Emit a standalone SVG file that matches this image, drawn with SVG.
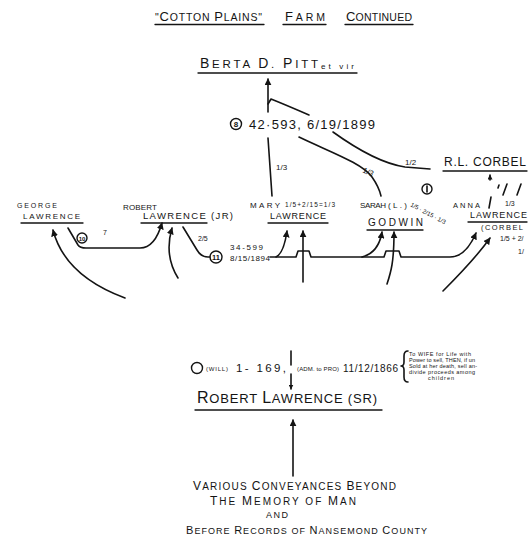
<svg xmlns="http://www.w3.org/2000/svg" width="528" height="544" viewBox="0 0 528 544">
<defs>
<style>
.t{font-family:"Liberation Sans",Arial,sans-serif;fill:#141414}
.ln{fill:none;stroke:#141414;stroke-width:1.6;stroke-linecap:round;stroke-linejoin:round}
.ul{fill:none;stroke:#141414;stroke-width:1.3;stroke-linecap:round}
.cr{fill:none;stroke:#141414;stroke-width:1.4}
</style>
<marker id="ah" viewBox="0 0 10 10" refX="9" refY="5" markerWidth="7" markerHeight="7" markerUnits="userSpaceOnUse" orient="auto">
<path d="M0,0 L10,5 L0,10 z" fill="#141414"/>
</marker>
<marker id="ahs" viewBox="0 0 10 10" refX="9" refY="5" markerWidth="5" markerHeight="5" markerUnits="userSpaceOnUse" orient="auto">
<path d="M0,0 L10,5 L0,10 z" fill="#141414"/>
</marker>
</defs>
<rect width="528" height="544" fill="#ffffff"/>

<g id="title">
<text class="t" x="155" y="21" font-size="10.5" textLength="107" lengthAdjust="spacing">"<tspan font-size="13">C</tspan>OTTON <tspan font-size="13">P</tspan>LAINS"</text>
<text class="t" x="285" y="21" font-size="10.5" textLength="40" lengthAdjust="spacing"><tspan font-size="13">F</tspan>ARM</text>
<text class="t" x="346" y="21" font-size="10.5" textLength="66" lengthAdjust="spacing"><tspan font-size="13">C</tspan>ONTINUED</text>
<path class="ul" d="M155,24.5 L264,24.5 M283,24.5 L326,24.5 M345,24.5 L413,24.5"/>
</g>

<g id="berta">
<text class="t" x="200" y="68" font-size="11.5" textLength="118" lengthAdjust="spacing"><tspan font-size="14">B</tspan>ERTA <tspan font-size="14">D</tspan>. <tspan font-size="14">P</tspan>ITT</text>
<text class="t" x="321" y="69" font-size="8" textLength="33" lengthAdjust="spacing">et vir</text>
<path class="ul" d="M198,73 L357,73"/>
</g>

<g id="deed8">
<circle class="cr" cx="236" cy="124" r="5.5" stroke-width="2"/>
<text class="t" x="236" y="127" font-size="8" font-weight="bold" text-anchor="middle">8</text>
<text class="t" x="249" y="129" font-size="13" textLength="126" lengthAdjust="spacing">42·593, 6/19/1899</text>
</g>

<g id="corbel">
<text class="t" x="444" y="166" font-size="12" textLength="82" lengthAdjust="spacing">R.L. CORBEL</text>
<path class="ul" d="M443,171 L527,171"/>
<circle class="cr" cx="427" cy="189" r="5" stroke-width="2.8"/>
<path class="ln" d="M427,186 L427,192" stroke-width="1.8"/>
</g>

<g id="george">
<text class="t" x="17" y="208" font-size="7" textLength="40" lengthAdjust="spacing">GEORGE</text>
<text class="t" x="23" y="219" font-size="8" textLength="57" lengthAdjust="spacing">LAWRENCE</text>
<path class="ul" d="M21,223 L83,223"/>
</g>

<g id="robertjr">
<text class="t" x="123" y="210" font-size="8" textLength="34" lengthAdjust="spacing">ROBERT</text>
<text class="t" x="143" y="219" font-size="9.5" textLength="90" lengthAdjust="spacing">LAWRENCE (JR)</text>
<path class="ul" d="M141,223 L207,223"/>
</g>

<g id="mary">
<text class="t" x="250" y="208" font-size="8" textLength="30" lengthAdjust="spacing">MARY</text>
<text class="t" x="285" y="207" font-size="6.5" textLength="50" lengthAdjust="spacing">1/5+2/15=1/3</text>
<text class="t" x="270" y="219" font-size="9" textLength="56" lengthAdjust="spacing">LAWRENCE</text>
<path class="ul" d="M268,223 L328,223"/>
</g>

<g id="sarah">
<text class="t" x="360" y="208" font-size="8" textLength="26" lengthAdjust="spacing">SARAH</text>
<text class="t" x="388" y="208" font-size="8" textLength="19" lengthAdjust="spacing">(L.)</text>
<text class="t" x="410" y="206" font-size="6" transform="rotate(28 410 206)">1/5 · 2/15 · 1/3</text>
<text class="t" x="368" y="226" font-size="10" textLength="55" lengthAdjust="spacing">GODWIN</text>
<path class="ul" d="M367,230 L423,230"/>
</g>

<g id="anna">
<text class="t" x="453" y="208" font-size="7.5" textLength="27" lengthAdjust="spacing">ANNA</text>
<text class="t" x="505" y="206" font-size="7">1/3</text>
<text class="t" x="470" y="218" font-size="9" textLength="57" lengthAdjust="spacing">LAWRENCE</text>
<path class="ul" d="M468,222 L527,222"/>
<text class="t" x="481" y="230" font-size="7.5" textLength="42" lengthAdjust="spacing">(CORBEL</text>
<text class="t" x="500" y="241" font-size="7">1/5 + 2/</text>
<text class="t" x="518" y="254" font-size="7">1/</text>
<path class="ln" d="M507,184 L503,195 M521,184 L517,195 M499,185 L498,188" stroke-width="1.3"/>
</g>

<g id="deed11">
<text class="t" x="198" y="241" font-size="7">2/5</text>
<circle class="cr" cx="216" cy="257" r="6"/>
<text class="t" x="216" y="260" font-size="7.5" font-weight="bold" text-anchor="middle">11</text>
<text class="t" x="230" y="250" font-size="8" textLength="33" lengthAdjust="spacing">34-599</text>
<text class="t" x="230" y="261" font-size="8" textLength="40" lengthAdjust="spacing">8/15/1894</text>
</g>

<g id="deed10">
<circle class="cr" cx="82" cy="238" r="5" stroke-width="1.8"/>
<text class="t" x="82" y="240.5" font-size="6" font-weight="bold" text-anchor="middle">10</text>
<text class="t" x="103" y="235" font-size="7">7</text>
</g>

<g id="will">
<circle class="cr" cx="197" cy="368" r="5.5"/>
<text class="t" x="206" y="371" font-size="6" textLength="22" lengthAdjust="spacing">(WILL)</text>
<text class="t" x="236" y="372" font-size="11.5" textLength="50" lengthAdjust="spacing">1- 169,</text>
<text class="t" x="297" y="371" font-size="6" textLength="42" lengthAdjust="spacing">(ADM. to PRO)</text>
<text class="t" x="343" y="372" font-size="10" textLength="55" lengthAdjust="spacing">11/12/1866</text>
<path class="ln" d="M408,351 Q404,351 404,356 L404,362 Q404,366 401,366 Q404,366 404,370 L404,377 Q404,382 408,382" stroke-width="1.2"/>
<g class="t" font-size="5.5">
<text x="409" y="356" textLength="62" lengthAdjust="spacing">To WIFE for Life with</text>
<text x="409" y="362" textLength="66" lengthAdjust="spacing">Power to sell, THEN, if un</text>
<text x="409" y="368" textLength="68" lengthAdjust="spacing">Sold at her death, sell an-</text>
<text x="409" y="374" textLength="66" lengthAdjust="spacing">divide proceeds among</text>
<text x="428" y="380" textLength="26" lengthAdjust="spacing">children</text>
</g>
</g>

<g id="robertsr">
<text class="t" x="197" y="403" font-size="13" textLength="180" lengthAdjust="spacing"><tspan font-size="16">R</tspan>OBERT <tspan font-size="16">L</tspan>AWRENCE (SR)</text>
<path class="ul" d="M195,410 L382,410" stroke-width="1.5"/>
</g>

<g id="bottom">
<text class="t" x="193" y="490" font-size="10" textLength="203" lengthAdjust="spacing"><tspan font-size="12">V</tspan>ARIOUS <tspan font-size="12">C</tspan>ONVEYANCES <tspan font-size="12">B</tspan>EYOND</text>
<text class="t" x="210" y="505" font-size="10" textLength="146" lengthAdjust="spacing"><tspan font-size="12">T</tspan>HE <tspan font-size="12">M</tspan>EMORY OF <tspan font-size="12">M</tspan>AN</text>
<text class="t" x="266" y="518" font-size="9" textLength="22" lengthAdjust="spacing">AND</text>
<text class="t" x="186" y="534" font-size="9" textLength="241" lengthAdjust="spacing"><tspan font-size="11">B</tspan>EFORE <tspan font-size="11">R</tspan>ECORDS OF <tspan font-size="11">N</tspan>ANSEMOND <tspan font-size="11">C</tspan>OUNTY</text>
</g>

<g id="connectors">
<path class="ln" d="M268,112 L268,79" marker-end="url(#ah)"/>
<path class="ln" d="M309,115 Q286,105 271,99 L268,104"/>
<path class="ln" d="M268,138 L272,196"/>
<text class="t" x="276" y="170" font-size="8">1/3</text>
<path class="ln" d="M299,137 C330,152 362,163 372,177 Q379,187 381,196"/>
<text class="t" x="362" y="172" font-size="8" transform="rotate(25 362 172)">1/3</text>
<path class="ln" d="M333,132 C358,150 385,164 405,167 L430,169"/>
<text class="t" x="405" y="165" font-size="8">1/2</text>
<path class="ln" d="M490,180 L490,175" marker-end="url(#ahs)"/>
<path class="ln" d="M491,197 L489,208" stroke-width="1.8"/>
<path class="ln" d="M68,228 L78,245 Q80,248 86,248 L140,248 C152,248 158,237 162,223" marker-end="url(#ah)"/>
<path class="ln" d="M125,298 C90,285 62,265 53,230" marker-end="url(#ah)"/>
<path class="ln" d="M178,278 C168,262 167,245 172,228" marker-end="url(#ah)"/>
<path class="ln" d="M183,227 L197,250 Q201,257 208,257 L210,257"/>
<path class="ln" d="M270,257 L296,257 L298,251 L309,251 L311,257 L384,257 L386,251 L399,251 L401,257 L450,257 C462,257 470,247 476,233" marker-end="url(#ah)"/>
<path class="ln" d="M276,257 C282,254 285,245 287,231" marker-end="url(#ah)"/>
<path class="ln" d="M303,282 L303,231" marker-end="url(#ah)"/>
<path class="ln" d="M362,257 C374,254 380,244 382,232" marker-end="url(#ah)"/>
<path class="ln" d="M387,284 C391,272 394,262 394,232" marker-end="url(#ah)"/>
<path class="ln" d="M443,291 C462,272 478,255 490,238" marker-end="url(#ah)"/>
<path class="ln" d="M291,351 L291,365"/>
<path class="ln" d="M291,374 L291,389" marker-end="url(#ahs)"/>
<path class="ln" d="M293,476 L293,420" marker-end="url(#ah)"/>
</g>
</svg>
